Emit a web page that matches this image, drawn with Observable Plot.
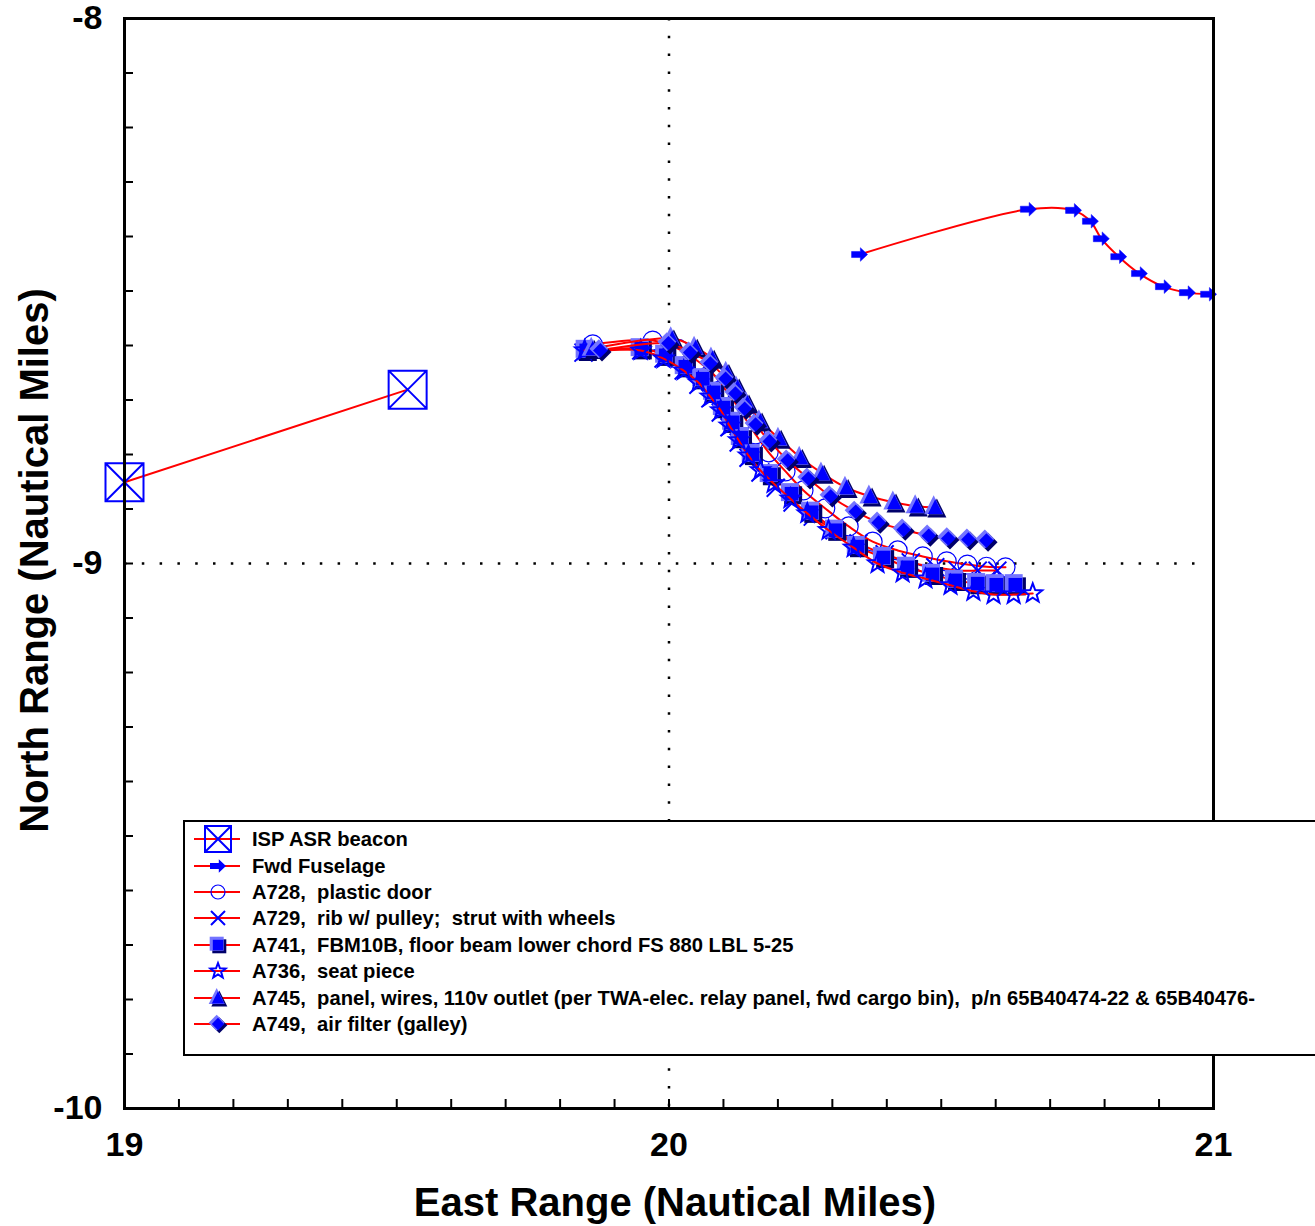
<!DOCTYPE html>
<html><head><meta charset="utf-8">
<script src="https://cdn.jsdelivr.net/npm/d3@7"></script>
<script src="https://cdn.jsdelivr.net/npm/@observablehq/plot@0.6"></script>
<style>
html,body{margin:0;padding:0;background:#fff;overflow:hidden;}
#wrap{position:relative;width:1315px;height:1226px;font-family:"Liberation Sans",Arial,Helvetica,sans-serif;}
#legend{position:absolute;left:183px;top:820px;width:1200px;height:236px;box-sizing:border-box;border:2px solid #000;background:#fff;padding-top:4px;}
.row{display:flex;align-items:center;height:26.4px;}
.row svg{flex:none;overflow:visible;}
.row span{font-weight:bold;font-size:20.2px;white-space:pre;color:#000;line-height:20px;}
</style></head>
<body><div id="wrap"><div id="legend"></div></div>
<script>
// ---- data (East, North in nautical miles) ----
const LABELS = [
  "ISP ASR beacon",
  "Fwd Fuselage",
  "A728,  plastic door",
  "A729,  rib w/ pulley;  strut with wheels",
  "A741,  FBM10B, floor beam lower chord FS 880 LBL 5-25",
  "A736,  seat piece",
  "A745,  panel, wires, 110v outlet (per TWA-elec. relay panel, fwd cargo bin),  p/n 65B40474-22 & 65B40476-",
  "A749,  air filter (galley)"
];
const X_TICKS = [19, 20, 21];
const Y_TICKS = [-10, -9, -8];
const X_MINOR = [19.1,19.2,19.3,19.4,19.5,19.6,19.7,19.8,19.9,20.0,20.1,20.2,20.3,20.4,20.5,20.6,20.7,20.8,20.9];
const Y_MINOR = [-9.9,-9.8,-9.7,-9.6,-9.5,-9.4,-9.3,-9.2,-9.1,-9.0,-8.9,-8.8,-8.7,-8.6,-8.5,-8.4,-8.3,-8.2,-8.1];
const GRID_X = [20];
const GRID_Y = [-9];

const ISP = [[19.000,-8.851],[19.520,-8.681]];
const FWD = [[20.350,-8.433],[20.660,-8.350],[20.743,-8.352],[20.774,-8.372],[20.794,-8.404],[20.826,-8.437],[20.864,-8.468],[20.908,-8.492],[20.952,-8.503],[20.991,-8.506]];
const A728 = [[19.860,-8.598],[19.970,-8.591],[20.017,-8.606],[20.052,-8.628],[20.080,-8.651],[20.102,-8.679],[20.122,-8.706],[20.140,-8.734],[20.159,-8.763],[20.183,-8.796],[20.214,-8.831],[20.247,-8.866],[20.287,-8.899],[20.330,-8.932],[20.374,-8.960],[20.420,-8.976],[20.466,-8.987],[20.510,-8.996],[20.548,-9.002],[20.583,-9.006],[20.618,-9.007]];
const A729 = [[19.843,-8.613],[19.949,-8.609],[19.990,-8.624],[20.027,-8.646],[20.054,-8.672],[20.076,-8.697],[20.095,-8.723],[20.111,-8.750],[20.128,-8.778],[20.146,-8.806],[20.168,-8.833],[20.196,-8.861],[20.227,-8.888],[20.264,-8.914],[20.304,-8.939],[20.348,-8.963],[20.396,-8.983],[20.444,-8.998],[20.489,-9.007],[20.530,-9.013],[20.567,-9.013],[20.603,-9.013]];
const A741 = [[19.848,-8.609],[19.949,-8.606],[19.994,-8.618],[20.030,-8.639],[20.062,-8.661],[20.082,-8.686],[20.100,-8.714],[20.117,-8.741],[20.133,-8.769],[20.153,-8.800],[20.186,-8.837],[20.225,-8.872],[20.262,-8.906],[20.306,-8.939],[20.346,-8.969],[20.394,-8.989],[20.438,-9.007],[20.484,-9.020],[20.526,-9.031],[20.567,-9.037],[20.601,-9.039],[20.636,-9.039]];
const A736 = [[19.845,-8.609],[19.948,-8.609],[19.990,-8.624],[20.027,-8.646],[20.054,-8.668],[20.076,-8.694],[20.095,-8.719],[20.111,-8.747],[20.128,-8.774],[20.146,-8.802],[20.168,-8.829],[20.192,-8.853],[20.223,-8.881],[20.254,-8.908],[20.293,-8.939],[20.339,-8.971],[20.383,-9.000],[20.429,-9.017],[20.471,-9.028],[20.517,-9.040],[20.559,-9.051],[20.596,-9.057],[20.633,-9.057],[20.668,-9.055]];
const A745 = [[19.860,-8.606],[20.006,-8.587],[20.049,-8.604],[20.080,-8.624],[20.107,-8.650],[20.126,-8.677],[20.144,-8.706],[20.168,-8.739],[20.203,-8.771],[20.242,-8.806],[20.282,-8.835],[20.326,-8.861],[20.370,-8.877],[20.414,-8.888],[20.455,-8.895],[20.489,-8.897]];
const A749 = [[19.874,-8.609],[19.999,-8.596],[20.039,-8.613],[20.076,-8.633],[20.104,-8.661],[20.122,-8.688],[20.139,-8.716],[20.159,-8.745],[20.185,-8.776],[20.218,-8.811],[20.256,-8.844],[20.297,-8.877],[20.343,-8.905],[20.385,-8.925],[20.431,-8.938],[20.477,-8.949],[20.513,-8.954],[20.550,-8.956],[20.583,-8.958]];

// ---- symbols ----
const rad = s => Math.sqrt(s / Math.PI);
const SYM = {
  boxX: {draw(c, s){const r=rad(s); c.moveTo(-r,-r); c.lineTo(r,-r); c.lineTo(r,r); c.lineTo(-r,r); c.closePath(); c.moveTo(-r,-r); c.lineTo(r,r); c.moveTo(r,-r); c.lineTo(-r,r);}},
  arrow: {draw(c, s){const r=rad(s); c.moveTo(-r,-0.38*r); c.lineTo(0.1*r,-0.38*r); c.lineTo(0.1*r,-0.85*r); c.lineTo(r,0); c.lineTo(0.1*r,0.85*r); c.lineTo(0.1*r,0.38*r); c.lineTo(-r,0.38*r); c.closePath();}},
  circle: {draw(c, s){const r=rad(s); c.moveTo(r,0); c.arc(0,0,r,0,2*Math.PI);}},
  times: {draw(c, s){const r=rad(s); c.moveTo(-r,-r); c.lineTo(r,r); c.moveTo(r,-r); c.lineTo(-r,r);}},
  square: {draw(c, s){const r=rad(s); c.moveTo(-r,-r); c.lineTo(r,-r); c.lineTo(r,r); c.lineTo(-r,r); c.closePath();}},
  star: {draw(c, s){const r=rad(s), ri=0.42*r; for(let i=0;i<10;i++){const a=-Math.PI/2+i*Math.PI/5, rr=i%2?ri:r; const px=rr*Math.cos(a), py=rr*Math.sin(a); if(i===0) c.moveTo(px,py); else c.lineTo(px,py);} c.closePath();}},
  triangle: {draw(c, s){const r=rad(s); c.moveTo(0,-1.1*r); c.lineTo(r,0.9*r); c.lineTo(-r,0.9*r); c.closePath();}},
  diamond: {draw(c, s){const r=rad(s); c.moveTo(0,-r); c.lineTo(r,0); c.lineTo(0,r); c.lineTo(-r,0); c.closePath();}}
};

const SERIES = [
  {label: LABELS[0], pts: ISP,  kind: "boxX",     r: 19,  lr: 13},
  {label: LABELS[1], pts: FWD,  kind: "arrow",    r: 8,   lr: 8},
  {label: LABELS[2], pts: A728, kind: "circle",   r: 9.5, lr: 7},
  {label: LABELS[3], pts: A729, kind: "times",    r: 9,   lr: 7},
  {label: LABELS[4], pts: A741, kind: "square",   r: 9,   lr: 7},
  {label: LABELS[5], pts: A736, kind: "star",     r: 10,  lr: 8},
  {label: LABELS[6], pts: A745, kind: "triangle", r: 9.5, lr: 8},
  {label: LABELS[7], pts: A749, kind: "diamond",  r: 9.5, lr: 8}
];

const BLUE = "#0000ff", LIGHT = "#7474ff", DARK = "#00006a", RED = "#ff0000";
const FONT = '"Liberation Sans", Arial, Helvetica, sans-serif';
const xy = {x: d => d[0], y: d => d[1]};

function markerMarks(s) {
  const sym = SYM[s.kind];
  switch (s.kind) {
    case "boxX": return [Plot.dot(s.pts, {...xy, symbol: sym, r: s.r, fill: "none", stroke: BLUE, strokeWidth: 2})];
    case "arrow": return [Plot.dot(s.pts, {...xy, symbol: sym, r: s.r, fill: BLUE, stroke: BLUE, strokeWidth: 0.5})];
    case "circle": return [Plot.dot(s.pts, {...xy, symbol: sym, r: s.r, fill: "none", stroke: BLUE, strokeWidth: 1.2})];
    case "times": return [Plot.dot(s.pts, {...xy, symbol: sym, r: s.r, fill: "none", stroke: BLUE, strokeWidth: 2})];
    case "star": return [Plot.dot(s.pts, {...xy, symbol: sym, r: s.r, fill: "none", stroke: BLUE, strokeWidth: 2})];
    default: {
      const o = 1.6;
      return [
        Plot.dot(s.pts, {...xy, symbol: sym, r: s.r, fill: DARK, dx: o, dy: o}),
        Plot.dot(s.pts, {...xy, symbol: sym, r: s.r, fill: LIGHT, dx: -o, dy: -o}),
        Plot.dot(s.pts, {...xy, symbol: sym, r: s.r - 2.2, fill: BLUE})
      ];
    }
  }
}

const dotted = {stroke: "#000", strokeWidth: 2.5, strokeDasharray: "2.5,15.3"};
const marks = [
  Plot.ruleX(GRID_X, {x: d => d, ...dotted}),
  Plot.ruleY(GRID_Y, {y: d => d, ...dotted, insetRight: 8})
];
for (const s of SERIES) {
  marks.push(Plot.line(s.pts, {...xy, stroke: RED, strokeWidth: 2, curve: "catmull-rom"}));
  marks.push(...markerMarks(s));
}
marks.push(
  Plot.axisX({ticks: X_MINOR, anchor: "bottom", tickSize: 9, dy: -9, strokeWidth: 2, tickFormat: () => "", label: null}),
  Plot.axisY({ticks: Y_MINOR, anchor: "left", tickSize: 9, dx: 9, strokeWidth: 2, tickFormat: () => "", label: null}),
  Plot.axisX({ticks: X_TICKS, anchor: "bottom", tickSize: 0, tickPadding: 23, fontSize: 34, fontWeight: "bold", fill: "#000", tickFormat: d => String(d), label: null}),
  Plot.axisY({ticks: Y_TICKS, anchor: "left", tickSize: 0, tickPadding: 22, fontSize: 34, fontWeight: "bold", fill: "#000", tickFormat: d => String(d), label: null}),
  Plot.frame({stroke: "#000", strokeWidth: 3}),
  Plot.text(["East Range (Nautical Miles)"], {text: d => d, frameAnchor: "bottom", dy: 95, dx: 6, fontSize: 40, fontWeight: "bold", fill: "#000", lineAnchor: "middle"}),
  Plot.text(["North Range (Nautical Miles)"], {text: d => d, frameAnchor: "left", textAnchor: "middle", dx: -89, dy: -3, rotate: -90, fontSize: 40, fontWeight: "bold", fill: "#000", lineAnchor: "middle"})
);

const chart = Plot.plot({
  width: 1315, height: 1226,
  marginLeft: 124, marginRight: 102, marginTop: 18, marginBottom: 118,
  x: {domain: [19, 21]},
  y: {domain: [-10, -8]},
  style: {fontFamily: FONT, background: "#fff", overflow: "visible", color: "#000"},
  marks
});
const wrap = document.getElementById("wrap");
wrap.insertBefore(chart, wrap.firstChild);

// ---- legend ----
const leg = d3.select("#legend");
function symPath(kind, r) { return d3.symbol().type(SYM[kind]).size(Math.PI * r * r)(); }
for (const s of SERIES) {
  const row = leg.append("div").attr("class", "row");
  const svg = row.append("svg").attr("width", 67).attr("height", 26);
  svg.append("line").attr("x1", 9).attr("x2", 55).attr("y1", 13).attr("y2", 13).attr("stroke", RED).attr("stroke-width", 2);
  const g = svg.append("g").attr("transform", "translate(33,13)");
  const r = s.lr;
  if (["square", "triangle", "diamond"].includes(s.kind)) {
    g.append("path").attr("d", symPath(s.kind, r)).attr("fill", DARK).attr("transform", "translate(1.3,1.3)");
    g.append("path").attr("d", symPath(s.kind, r)).attr("fill", LIGHT).attr("transform", "translate(-1.3,-1.3)");
    g.append("path").attr("d", symPath(s.kind, r - 1.8)).attr("fill", BLUE);
  } else if (s.kind === "arrow") {
    g.append("path").attr("d", symPath(s.kind, r)).attr("fill", BLUE);
  } else {
    g.append("path").attr("d", symPath(s.kind, r)).attr("fill", "none").attr("stroke", BLUE).attr("stroke-width", s.kind === "circle" ? 1.2 : 2);
  }
  row.append("span").text(s.label);
}
</script>
</body></html>
